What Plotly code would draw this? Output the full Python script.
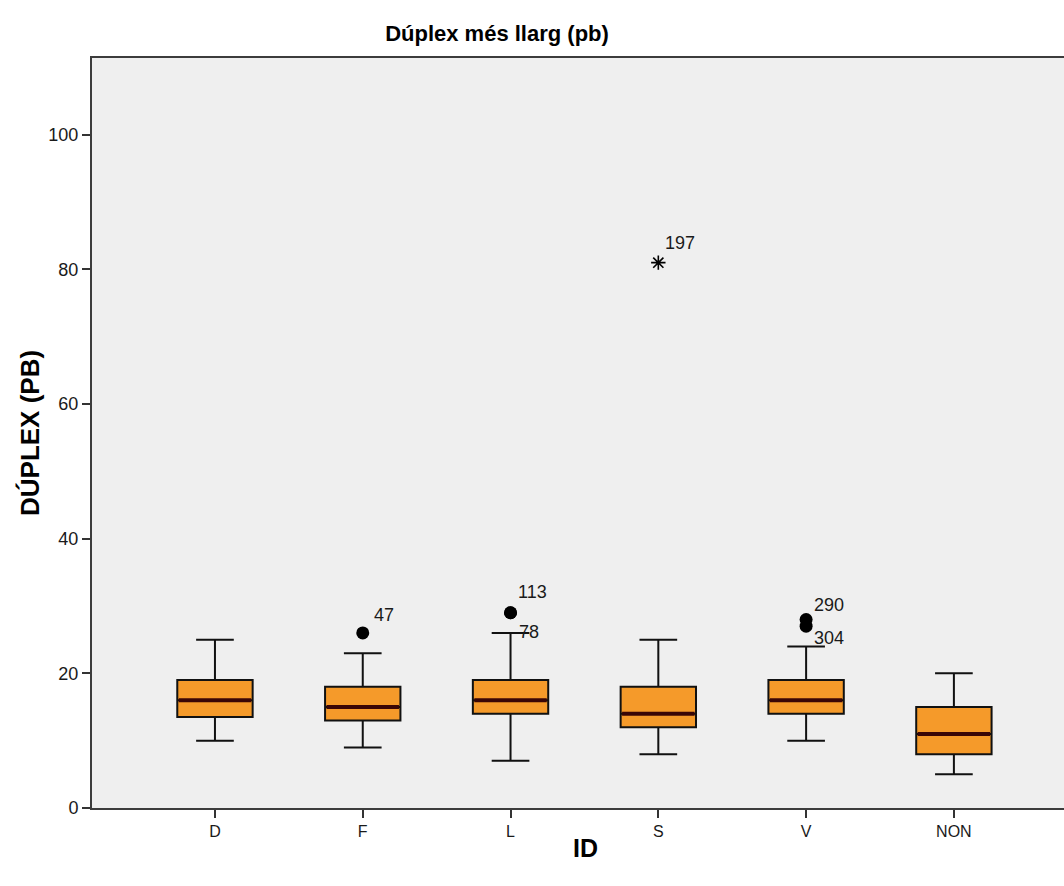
import plotly.graph_objects as go

# Summary statistics per group (pb)
categories = ["D", "F", "L", "S", "V", "NON"]
q1 = [13.5, 13, 14, 12, 14, 8]
median = [16, 15, 16, 14, 16, 11]
q3 = [19, 18, 19, 18, 19, 15]
lower_whisker = [10, 9, 7, 8, 10, 5]
upper_whisker = [25, 23, 26, 25, 24, 20]

# Outliers (circles) and extremes (stars) with case labels
outlier_cat = ["F", "L", "L", "V", "V"]
outlier_val = [26, 29, 29, 28, 27]
outlier_id = ["47", "113", "78", "290", "304"]
extreme_cat = ["S"]
extreme_val = [81]
extreme_id = ["197"]

y_ticks = [0, 20, 40, 60, 80, 100]

FONT = "Liberation Sans, Arial, sans-serif"
BOX_W = 0.51
pos = {c: i for i, c in enumerate(categories)}
xs = list(range(len(categories)))

fig = go.Figure()

fig.add_trace(go.Box(
    x=xs, q1=q1, median=median, q3=q3,
    lowerfence=lower_whisker, upperfence=upper_whisker,
    boxpoints=False, width=BOX_W, whiskerwidth=0.5,
    fillcolor="#F59A2A", line=dict(color="#111111", width=2),
    hoverinfo="skip", showlegend=False,
))

# Thick median bars
mx, my = [], []
for i, m in enumerate(median):
    mx += [i - BOX_W / 2 + 0.01, i + BOX_W / 2 - 0.01, None]
    my += [m, m, None]
fig.add_trace(go.Scatter(
    x=mx, y=my, mode="lines", line=dict(color="#3a0606", width=4),
    hoverinfo="skip", showlegend=False,
))

fig.add_trace(go.Scatter(
    x=[pos[c] for c in outlier_cat], y=outlier_val, mode="markers",
    marker=dict(symbol="circle", size=13, color="#000000"),
    hoverinfo="skip", showlegend=False,
))
fig.add_trace(go.Scatter(
    x=[pos[c] for c in extreme_cat], y=extreme_val, mode="markers",
    marker=dict(symbol="asterisk-open", size=12, color="#000000",
                line=dict(color="#000000", width=1.6)),
    hoverinfo="skip", showlegend=False,
))

# Case labels next to the points: (xshift, yshift) in pixels
label_offsets = {"47": (9, 18), "113": (5, 21), "78": (6, -19),
                 "290": (6, 14), "304": (6, -12), "197": (5, 20)}
for c, v, t in list(zip(outlier_cat, outlier_val, outlier_id)) + \
        list(zip(extreme_cat, extreme_val, extreme_id)):
    dx, dy = label_offsets[t]
    fig.add_annotation(
        x=pos[c], y=v, text=t, showarrow=False, xanchor="left", yanchor="middle",
        xshift=dx, yshift=dy, font=dict(family=FONT, size=18, color="#1a1a1a"),
    )

W, H = 1064, 886
ML, MT, MB = 92, 58, 78
plot_w = W - ML

fig.add_annotation(
    xref="paper", yref="paper", x=-(ML - 30) / plot_w, y=0.5, text="<b>DÚPLEX (PB)</b>",
    textangle=-90, showarrow=False, xanchor="center", yanchor="middle",
    font=dict(family=FONT, size=26, color="#000000"),
)
fig.add_annotation(
    xref="paper", yref="paper", x=(585 - ML) / plot_w, y=-(848 - (H - MB)) / (H - MT - MB),
    text="<b>ID</b>", showarrow=False, xanchor="center", yanchor="middle",
    font=dict(family=FONT, size=25, color="#000000"),
)

fig.update_layout(
    width=W, height=H,
    margin=dict(l=ML, r=0, t=MT, b=MB),
    paper_bgcolor="#FFFFFF", plot_bgcolor="#EFEFEF",
    title=dict(text="<b>Dúplex més llarg (pb)</b>", xref="container", yref="container",
               x=497 / W, y=1 - 33 / H, xanchor="center", yanchor="middle",
               font=dict(family=FONT, size=22, color="#000000")),
    xaxis=dict(range=[-0.832, 5.745], tickvals=xs, ticktext=categories,
               showgrid=False, zeroline=False, showline=True, mirror=True,
               linecolor="#3c3c3c", linewidth=2, ticks="outside", ticklen=8,
               tickwidth=2, tickcolor="#333333",
               tickfont=dict(family=FONT, size=16, color="#1a1a1a")),
    yaxis=dict(range=[0, 111.4], tickvals=y_ticks, showgrid=False, zeroline=False,
               showline=True, linecolor="#3c3c3c", linewidth=2, ticks="outside",
               ticklen=8, tickwidth=2, tickcolor="#333333",
               tickfont=dict(family=FONT, size=18, color="#1a1a1a")),
)

fig.write_html("out.html")
